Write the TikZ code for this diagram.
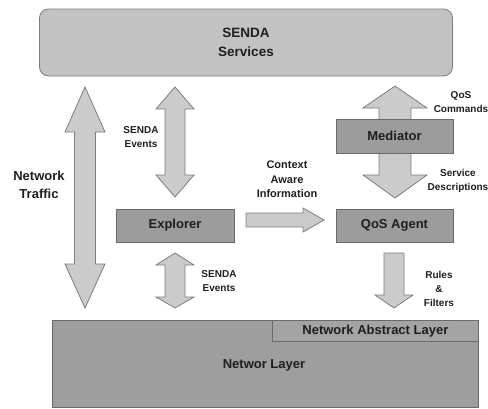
\documentclass[tikz,border=0pt]{standalone}
\usepackage{fontspec}
\setmainfont{Liberation Sans}
\definecolor{svcfill}{HTML}{C2C2C2}
\definecolor{boxfill}{HTML}{9C9C9C}
\definecolor{boxline}{HTML}{6A6A6A}
\definecolor{arrfill}{HTML}{CBCBCB}
\definecolor{arrline}{HTML}{7E7E7E}
\definecolor{netfill}{HTML}{9E9E9E}
\definecolor{nalfill}{HTML}{A4A4A4}
\definecolor{txt}{HTML}{1E1E1E}
\begin{document}
\begin{tikzpicture}[x=1pt,y=-1pt,
  box/.style={draw=boxline, fill=boxfill, line width=0.8pt, text=txt, align=center,
    font=\fontsize{13}{17}\selectfont\bfseries, inner sep=0pt},
  blockarrow/.style={draw=arrline, fill=arrfill, line width=0.8pt, line join=miter},
  lbl/.style={text=txt, align=center, font=\fontsize{10}{14}\selectfont\bfseries, inner sep=0pt},
  biglbl/.style={text=txt, align=center, font=\fontsize{13}{17.5}\selectfont\bfseries, inner sep=0pt},
  midlbl/.style={text=txt, align=center, font=\fontsize{11}{14.5}\selectfont\bfseries, inner sep=0pt}]
\useasboundingbox (0,0) rectangle (488,408);

% SENDA Services
\node[box, fill=svcfill, draw=arrline, rounded corners=9pt, minimum width=413pt, minimum height=67pt,
  font=\fontsize{13.5}{18.5}\selectfont\bfseries] (svc) at (246,42.5) {SENDA\\Services};

% Network traffic double arrow
\draw[blockarrow] (85,87) -- (105,132) -- (95.5,132) -- (95.5,264) -- (105,264) -- (85,308)
  -- (65,264) -- (74.5,264) -- (74.5,132) -- (65,132) -- cycle;
\node[biglbl] (traffic) at (39,185) {Network\\Traffic};

% Upper SENDA events arrow
\draw[blockarrow] (175,87) -- (194,109) -- (185,109) -- (185,175) -- (194,175) -- (175,197)
  -- (156,175) -- (165,175) -- (165,109) -- (156,109) -- cycle;
\node[lbl] (ev1) at (141,137) {SENDA\\Events};

% Lower SENDA events arrow
\draw[blockarrow] (175,253) -- (194,265) -- (185,265) -- (185,297) -- (194,297) -- (175,308)
  -- (156,297) -- (165,297) -- (165,265) -- (156,265) -- cycle;
\node[lbl] (ev2) at (219,281) {SENDA\\Events};

% Mediator arrows (behind the box)
\draw[blockarrow] (395,86) -- (427,108) -- (411,108) -- (411,125) -- (379,125) -- (379,108) -- (363,108) -- cycle;
\draw[blockarrow] (379,148) -- (411,148) -- (411,175) -- (427,175) -- (395,198) -- (363,175) -- (379,175) -- cycle;
\node[lbl] (qoscmd) at (461,102) {QoS\\Commands};
\node[lbl] (svcdesc) at (458,180.5) {Service\\Descriptions};

% Boxes
\node[box, minimum width=117pt, minimum height=34pt] (med) at (394.5,136) {Mediator};
\node[box, minimum width=118pt, minimum height=33pt] (exp) at (175,225.5) {Explorer};
\node[box, minimum width=117pt, minimum height=33pt] (qos) at (394.5,225.5) {QoS Agent};

% Context aware arrow
\draw[blockarrow] (246,213) -- (303,213) -- (303,208) -- (324,220) -- (303,232) -- (303,227) -- (246,227) -- cycle;
\node[midlbl] (ctx) at (287,179.5) {Context\\Aware\\Information};

% Rules arrow
\draw[blockarrow] (384,253) -- (404,253) -- (404,295) -- (413,295) -- (394,308) -- (375,295) -- (384,295) -- cycle;
\node[lbl] (rules) at (439,288.5) {Rules\\\&\\Filters};

% Network layer
\node[box, fill=netfill, minimum width=426pt, minimum height=87pt, anchor=north west] (net) at (52,320) {};
\node[biglbl] (netlbl) at (264,365) {Networ Layer};
\node[box, fill=nalfill, minimum width=206pt, minimum height=21pt, anchor=north east] (nal) at (net.north east) {Network Abstract Layer};
\end{tikzpicture}
\end{document}
